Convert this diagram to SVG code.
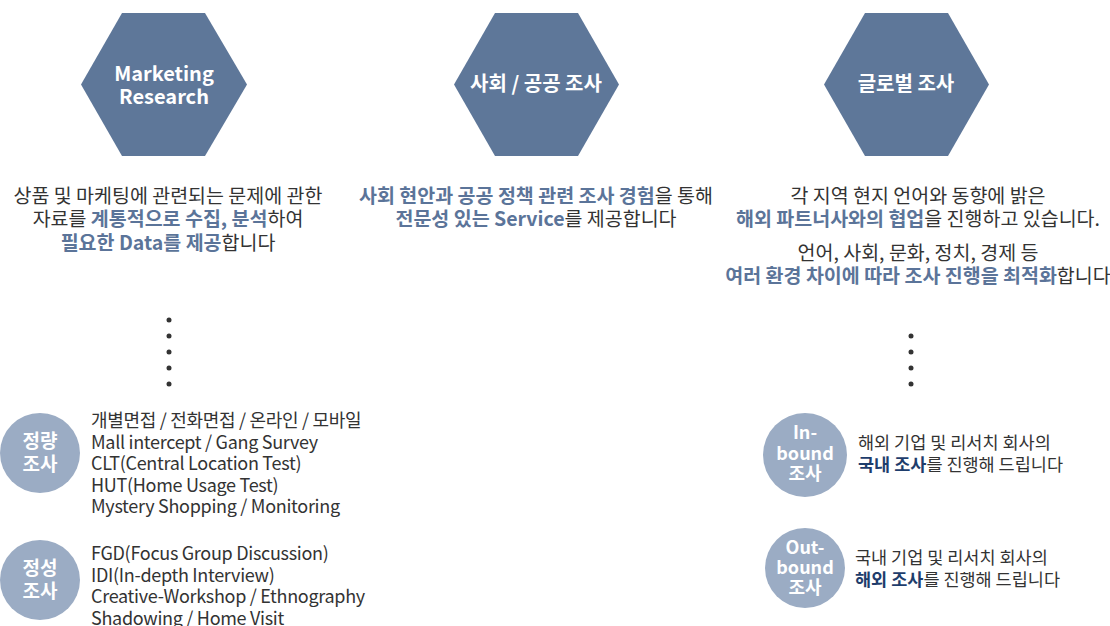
<svg xmlns="http://www.w3.org/2000/svg" width="1110" height="626" viewBox="0 0 1110 626">
<style>
text{font-family:"Noto Sans CJK KR","Noto Sans",sans-serif;}
.hex{fill:#5e7799;}
.ht{fill:#fff;font-size:20px;font-weight:700;text-anchor:middle;}
.d{fill:#333;font-size:19.5px;text-anchor:middle;}
.b{fill:#5b7499;font-weight:700;}
.n{fill:#1e3d6c;font-weight:700;}
.dot{fill:#333;}
.cir{fill:#9bacc4;}
.ct{fill:#fff;font-size:19px;font-weight:700;text-anchor:middle;}
.l{fill:#333;font-size:18px;letter-spacing:-0.3px;}
.r{fill:#333;font-size:17.5px;}
</style>
<rect width="1110" height="626" fill="#fff"/>
<g id="connectors">
<circle class="dot" cx="169" cy="320" r="2.5"/>
<circle class="dot" cx="169" cy="336" r="2.5"/>
<circle class="dot" cx="169" cy="352" r="2.5"/>
<circle class="dot" cx="169" cy="368" r="2.5"/>
<circle class="dot" cx="169" cy="384" r="2.5"/>
<circle class="dot" cx="911" cy="336" r="2.5"/>
<circle class="dot" cx="911" cy="352" r="2.5"/>
<circle class="dot" cx="911" cy="368" r="2.5"/>
<circle class="dot" cx="911" cy="384" r="2.5"/>
</g>
<g id="hex-marketing">
<polygon class="hex" points="122,13 205,13 247,84.5 205,156 122,156 81,84.5"/>
<text class="ht" x="164" y="81">Marketing</text>
<text class="ht" x="164" y="104">Research</text>
</g>
<g id="hex-social">
<polygon class="hex" points="495,13 578,13 619,84.5 578,156 495,156 454,84.5"/>
<text class="ht" x="536" y="91">사회 / 공공 조사</text>
</g>
<g id="hex-global">
<polygon class="hex" points="865,13 948,13 989,84.5 948,156 865,156 824,84.5"/>
<text class="ht" x="906" y="91">글로벌 조사</text>
</g>
<g id="desc-marketing">
<text class="d" x="168" y="203">상품 및 마케팅에 관련되는 문제에 관한</text>
<text class="d" x="168" y="226">자료를 <tspan class="b">계통적으로 수집, 분석</tspan>하여</text>
<text class="d" x="168" y="250"><tspan class="b">필요한 Data를 제공</tspan>합니다</text>
</g>
<g id="desc-social">
<text class="d" x="536" y="203"><tspan class="b">사회 현안과 공공 정책 관련 조사 경험</tspan>을 통해</text>
<text class="d" x="536" y="226"><tspan class="b">전문성 있는 Service</tspan>를 제공합니다</text>
</g>
<g id="desc-global">
<text class="d" x="918" y="203">각 지역 현지 언어와 동향에 밝은</text>
<text class="d" x="918" y="226"><tspan class="b">해외 파트너사와의 협업</tspan>을 진행하고 있습니다.</text>
<text class="d" x="918" y="260">언어, 사회, 문화, 정치, 경제 등</text>
<text class="d" x="918" y="283"><tspan class="b">여러 환경 차이에 따라 조사 진행을 최적화</tspan>합니다</text>
</g>
<g id="quant">
<circle class="cir" cx="40" cy="453" r="40"/>
<text class="ct" x="40" y="448">정량</text>
<text class="ct" x="40" y="471">조사</text>
<text class="l" x="91" y="427">개별면접 / 전화면접 / 온라인 / 모바일</text>
<text class="l" x="91" y="449">Mall intercept / Gang Survey</text>
<text class="l" x="91" y="470">CLT(Central Location Test)</text>
<text class="l" x="91" y="492">HUT(Home Usage Test)</text>
<text class="l" x="91" y="513">Mystery Shopping / Monitoring</text>
</g>
<g id="qual">
<circle class="cir" cx="40" cy="580" r="40"/>
<text class="ct" x="40" y="575">정성</text>
<text class="ct" x="40" y="598">조사</text>
<text class="l" x="91" y="560">FGD(Focus Group Discussion)</text>
<text class="l" x="91" y="582">IDI(In-depth Interview)</text>
<text class="l" x="91" y="603">Creative-Workshop / Ethnography</text>
<text class="l" x="91" y="625">Shadowing / Home Visit</text>
</g>
<g id="inbound">
<circle class="cir" cx="805" cy="455" r="42"/>
<text class="ct" x="805" y="439" style="font-size:18px">In-</text>
<text class="ct" x="805" y="460" style="font-size:18px">bound</text>
<text class="ct" x="805" y="480" style="font-size:18px">조사</text>
<text class="r" x="858" y="449">해외 기업 및 리서치 회사의</text>
<text class="r" x="858" y="471"><tspan class="n">국내 조사</tspan>를 진행해 드립니다</text>
</g>
<g id="outbound">
<circle class="cir" cx="805" cy="568" r="40"/>
<text class="ct" x="805" y="554" style="font-size:18px">Out-</text>
<text class="ct" x="805" y="574" style="font-size:18px">bound</text>
<text class="ct" x="805" y="594" style="font-size:18px">조사</text>
<text class="r" x="855" y="564">국내 기업 및 리서치 회사의</text>
<text class="r" x="855" y="586"><tspan class="n">해외 조사</tspan>를 진행해 드립니다</text>
</g>
</svg>
